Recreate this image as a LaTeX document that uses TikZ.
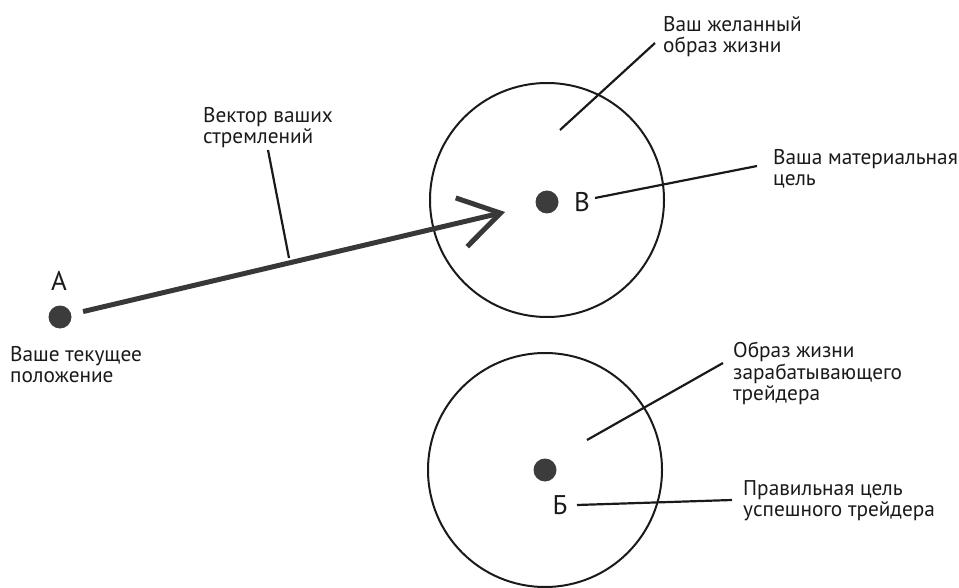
\documentclass[tikz,border=0pt]{standalone}
\usepackage{fontspec}
\setmainfont{PT Sans}
\usetikzlibrary{arrows.meta}
\definecolor{ink}{HTML}{1A1A1A}
\definecolor{dotgray}{HTML}{3C3C3C}
\definecolor{vecgray}{HTML}{383838}
\tikzset{
  dot/.style={circle, fill=dotgray, minimum size=23pt, inner sep=0pt},
  ring/.style={circle, draw=ink, line width=2pt, minimum size=234pt, inner sep=0pt},
  ptlabel/.style={font=\fontsize{27}{30}\selectfont, text=ink, inner sep=0pt},
  note/.style={font=\fontsize{21.3}{21.5}\selectfont, text=ink, align=left, anchor=north west, inner sep=0pt},
  leader/.style={draw=ink, line width=2.2pt},
  vector/.style={draw=vecgray, line width=5pt, -{Straight Barb[length=40pt, width=50pt, line width=5pt]}}
}
\begin{document}
\begin{tikzpicture}[x=1pt, y=-1pt]
  \useasboundingbox (0,0) rectangle (959,588);

  % the two circles of life styles
  \node[ring] (ringTop) at (547,200) {};
  \node[ring] (ringBot) at (545,470) {};

  % points A, B and Б
  \node[dot] (A) at (60,317) {};
  \node[dot] (B) at (547,202) {};
  \node[dot] (Bb) at (545,470) {};
  \node[ptlabel] (labA) at (59,281) {А};
  \node[ptlabel] (labB) at (582,202) {В};
  \node[ptlabel] (labBb) at (560,505) {Б};

  % captions
  \node[note] (tDesired) at (663,16) {Ваш желанный\\образ жизни};
  \node[note] (tGoal) at (773,149) {Ваша материальная\\цель};
  \node[note] (tVector) at (203,107) {Вектор ваших\\стремлений};
  \node[note] (tNow) at (10,346) {Ваше текущее\\положение};
  \node[note] (tTrader) at (733,342) {Образ жизни\\зарабатывающего\\трейдера};
  \node[note] (tRight) at (743,480) {Правильная цель\\успешного трейдера};

  % vector of aspirations from A towards B
  \coordinate (vecTip) at (505,212);
  \draw[vector, shorten <=12pt] (A) -- (vecTip);

  % leader lines
  \coordinate (inTop) at (560,130);
  \coordinate (toDesired) at (655,43);
  \draw[leader] (inTop) -- (toDesired);

  \coordinate (fromB) at (595,198);
  \coordinate (toGoal) at (757,166);
  \draw[leader] (fromB) -- (toGoal);

  \coordinate (vecTop) at (268,150);
  \coordinate (onVec) at (289,258);
  \draw[leader] (vecTop) -- (onVec);

  \coordinate (inBot) at (587,440);
  \coordinate (toTrader) at (723,363);
  \draw[leader] (inBot) -- (toTrader);

  \coordinate (fromBb) at (577,505);
  \coordinate (toRight) at (732,500);
  \draw[leader] (fromBb) -- (toRight);
\end{tikzpicture}
\end{document}
